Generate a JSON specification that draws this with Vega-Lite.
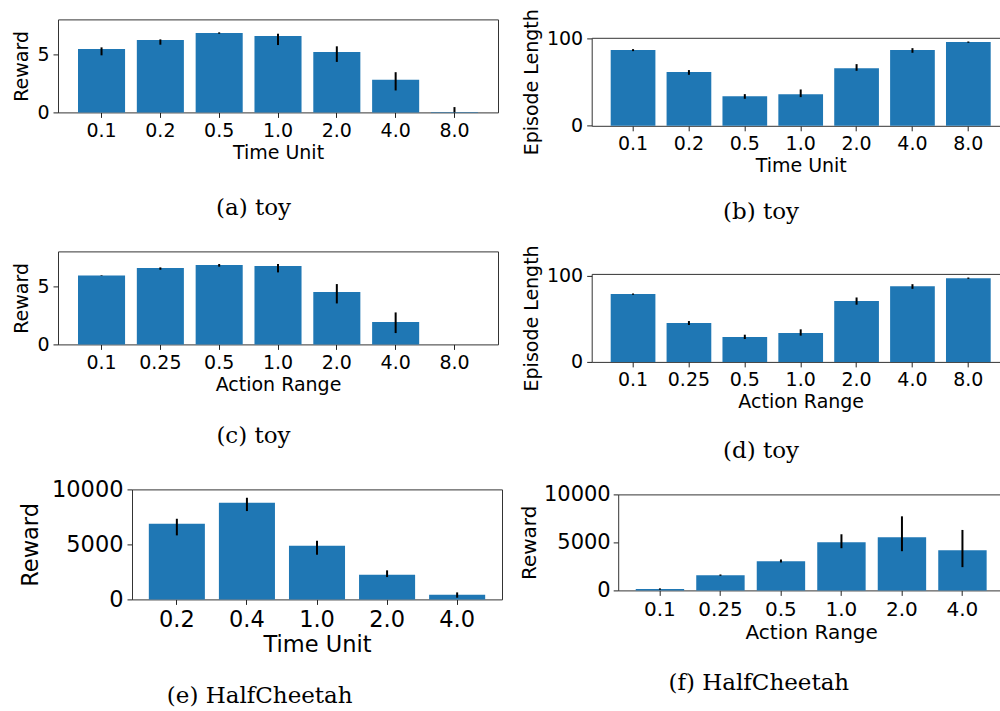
{
  "$schema": "https://vega.github.io/schema/vega-lite/v6.json",
  "background": "white",
  "padding": {"left": 12, "top": 8.4, "right": 0, "bottom": 0},
  "spacing": 16.7,
  "config": {
    "view": {"stroke": "#333333", "strokeWidth": 1},
    "axis": {
      "labelFont": "DejaVu Sans", "titleFont": "DejaVu Sans",
      "labelColor": "black", "titleColor": "black", "titleFontWeight": "normal",
      "grid": false, "domain": false, "domainColor": "#333333", "domainWidth": 1,
      "tickColor": "#222222", "tickWidth": 1, "tickSize": 5,
      "labelPadding": 4, "titlePadding": 5
    },
    "axisX": {"labelAngle": 0, "titlePadding": 3},
    "title": {"font": "DejaVu Serif", "fontWeight": "normal", "fontSize": 23, "orient": "bottom", "anchor": "middle", "frame": "bounds", "color": "black"}
  },
  "hconcat": [
    {
      "spacing": 30,
      "vconcat": [
        {
          "title": {"text": "(a) toy", "offset": 34.5, "dx": -2},
          "width": 440, "height": 93,
          "data": {"values": [
            {"x": "0.1", "v": 5.49, "lo": 4.94, "hi": 5.63},
            {"x": "0.2", "v": 6.26, "lo": 5.86, "hi": 6.32},
            {"x": "0.5", "v": 6.87, "lo": 6.81, "hi": 6.93},
            {"x": "1.0", "v": 6.61, "lo": 5.83, "hi": 6.81},
            {"x": "2.0", "v": 5.23, "lo": 4.37, "hi": 5.72},
            {"x": "4.0", "v": 2.82, "lo": 1.90, "hi": 3.48},
            {"x": "8.0", "v": 0.03, "lo": -0.4, "hi": 0.46}
          ]},
          "encoding": {
            "x": {"field": "x", "type": "nominal", "sort": null, "title": "Time Unit",
                  "scale": {"paddingInner": 0.2, "paddingOuter": 0.34},
                  "axis": {"labelFontSize": 19, "titleFontSize": 19}}
          },
          "layer": [
            {"mark": {"type": "bar", "color": "#1f77b4"},
             "encoding": {"y": {"field": "v", "type": "quantitative", "title": "Reward",
                                "scale": {"domain": [0, 8.05], "clamp": true, "nice": false},
                                "axis": {"values": [0, 5], "labelFontSize": 19, "titleFontSize": 19}}}},
            {"mark": {"type": "rule", "color": "black", "strokeWidth": 2},
             "encoding": {"y": {"field": "lo", "type": "quantitative", "title": "Reward"}, "y2": {"field": "hi"}}}
          ]
        },
        {
          "title": {"text": "(c) toy", "offset": 30.5, "dx": -2},
          "width": 440, "height": 93,
          "data": {"values": [
            {"x": "0.1", "v": 5.91, "lo": 5.89, "hi": 5.94},
            {"x": "0.25", "v": 6.54, "lo": 6.40, "hi": 6.60},
            {"x": "0.5", "v": 6.80, "lo": 6.66, "hi": 6.89},
            {"x": "1.0", "v": 6.71, "lo": 6.17, "hi": 6.89},
            {"x": "2.0", "v": 4.49, "lo": 3.51, "hi": 5.17},
            {"x": "4.0", "v": 1.91, "lo": 0.97, "hi": 2.74},
            {"x": "8.0", "v": 0, "lo": 0, "hi": 0}
          ]},
          "encoding": {
            "x": {"field": "x", "type": "nominal", "sort": null, "title": "Action Range",
                  "scale": {"paddingInner": 0.2, "paddingOuter": 0.34},
                  "axis": {"labelFontSize": 19, "titleFontSize": 19}}
          },
          "layer": [
            {"mark": {"type": "bar", "color": "#1f77b4"},
             "encoding": {"y": {"field": "v", "type": "quantitative", "title": "Reward",
                                "scale": {"domain": [0, 7.97], "clamp": true, "nice": false},
                                "axis": {"values": [0, 5], "labelFontSize": 19, "titleFontSize": 19}}}},
            {"mark": {"type": "rule", "color": "black", "strokeWidth": 2},
             "encoding": {"y": {"field": "lo", "type": "quantitative", "title": "Reward"}, "y2": {"field": "hi"}}}
          ]
        },
        {
          "title": {"text": "(e) HalfCheetah", "offset": 28.5, "dx": -1},
          "width": 444, "height": 110,
          "view": {"stroke": null},
          "data": {"values": [
            {"x": "0.2", "v": 6880, "lo": 5820, "hi": 7330},
            {"x": "0.4", "v": 8790, "lo": 8030, "hi": 9240},
            {"x": "1.0", "v": 4880, "lo": 4060, "hi": 5330},
            {"x": "2.0", "v": 2240, "lo": 2030, "hi": 2640},
            {"x": "4.0", "v": 424, "lo": 152, "hi": 636}
          ]},
          "layer": [
            {"mark": {"type": "bar", "color": "#1f77b4"},
             "encoding": {
               "x": {"field": "x", "type": "nominal", "sort": null, "title": "Time Unit",
                     "scale": {"range": [74, 444], "paddingInner": 0.2, "paddingOuter": 0.24},
                     "axis": {"orient": "bottom", "domain": true, "labelFontSize": 22.5, "titleFontSize": 22.5}},
               "y": {"field": "v", "type": "quantitative", "title": "Reward",
                     "scale": {"domain": [0, 10000], "clamp": true, "nice": false},
                     "axis": {"orient": "left", "offset": -74, "domain": true, "values": [0, 5000, 10000], "format": "d", "labelFontSize": 22.5, "titleFontSize": 22.5, "titlePadding": 9}}}},
            {"mark": {"type": "rule", "color": "black", "strokeWidth": 2},
             "encoding": {
               "x": {"field": "x", "type": "nominal", "sort": null, "title": null,
                     "scale": {"range": [74, 444], "paddingInner": 0.2, "paddingOuter": 0.24},
                     "axis": {"orient": "top", "domain": true, "ticks": false, "labels": false}},
               "y": {"field": "lo", "type": "quantitative", "title": null,
                     "scale": {"domain": [0, 10000], "clamp": true, "nice": false},
                     "axis": {"orient": "right", "domain": true, "ticks": false, "labels": false}},
               "y2": {"field": "hi"}}}
          ]
        }
      ]
    },
    {
      "spacing": 19.5,
      "vconcat": [
        {
          "title": {"text": "(b) toy", "offset": 25, "dx": -5},
          "width": 418, "height": 106.4,
          "view": {"stroke": null},
          "data": {"values": [
            {"x": "0.1", "v": 86.3, "lo": 85.1, "hi": 87.4},
            {"x": "0.2", "v": 61.2, "lo": 58.1, "hi": 63.5},
            {"x": "0.5", "v": 33.8, "lo": 30.8, "hi": 36.1},
            {"x": "1.0", "v": 36.1, "lo": 32.7, "hi": 41.4},
            {"x": "2.0", "v": 65.7, "lo": 62.7, "hi": 70.3},
            {"x": "4.0", "v": 86.3, "lo": 83.2, "hi": 88.5},
            {"x": "8.0", "v": 95.4, "lo": 94.6, "hi": 96.1}
          ]},
          "layer": [
            {"mark": {"type": "bar", "color": "#1f77b4"},
             "encoding": {
               "x": {"field": "x", "type": "nominal", "sort": null, "title": "Time Unit",
                     "scale": {"paddingInner": 0.2, "paddingOuter": 0.34},
                     "axis": {"orient": "bottom", "domain": true, "labelFontSize": 19, "titleFontSize": 19}},
               "y": {"field": "v", "type": "quantitative", "title": "Episode Length",
                     "scale": {"domain": [0, 100.3], "range": [106.4, 18.4], "clamp": true, "nice": false},
                     "axis": {"orient": "left", "domain": true, "values": [0, 100], "labelFontSize": 19, "titleFontSize": 19}}}},
            {"mark": {"type": "rule", "color": "black", "strokeWidth": 2},
             "encoding": {
               "x": {"field": "x", "type": "nominal", "sort": null, "title": null,
                     "scale": {"paddingInner": 0.2, "paddingOuter": 0.34},
                     "axis": {"orient": "top", "offset": -18.4, "domain": true, "ticks": false, "labels": false}},
               "y": {"field": "lo", "type": "quantitative", "title": null,
                     "scale": {"domain": [0, 100.3], "range": [106.4, 18.4], "clamp": true, "nice": false},
                     "axis": {"orient": "right", "domain": true, "ticks": false, "labels": false}},
               "y2": {"field": "hi"}}}
          ]
        },
        {
          "title": {"text": "(d) toy", "offset": 28.5, "dx": -5},
          "width": 418, "height": 88,
          "data": {"values": [
            {"x": "0.1", "v": 78.5, "lo": 77.7, "hi": 79.2},
            {"x": "0.25", "v": 45.0, "lo": 42.7, "hi": 47.3},
            {"x": "0.5", "v": 28.8, "lo": 26.5, "hi": 31.5},
            {"x": "1.0", "v": 33.5, "lo": 30.4, "hi": 37.7},
            {"x": "2.0", "v": 70.4, "lo": 66.2, "hi": 74.6},
            {"x": "4.0", "v": 87.7, "lo": 84.6, "hi": 90.0},
            {"x": "8.0", "v": 96.9, "lo": 96.2, "hi": 97.7}
          ]},
          "encoding": {
            "x": {"field": "x", "type": "nominal", "sort": null, "title": "Action Range",
                  "scale": {"paddingInner": 0.2, "paddingOuter": 0.34},
                  "axis": {"labelFontSize": 19, "titleFontSize": 19}}
          },
          "layer": [
            {"mark": {"type": "bar", "color": "#1f77b4"},
             "encoding": {"y": {"field": "v", "type": "quantitative", "title": "Episode Length",
                                "scale": {"domain": [0, 101.9], "clamp": true, "nice": false},
                                "axis": {"values": [0, 100], "labelFontSize": 19, "titleFontSize": 19}}}},
            {"mark": {"type": "rule", "color": "black", "strokeWidth": 2},
             "encoding": {"y": {"field": "lo", "type": "quantitative", "title": "Episode Length"}, "y2": {"field": "hi"}}}
          ]
        },
        {
          "title": {"text": "(f) HalfCheetah", "offset": 30, "dx": -3},
          "width": 412.5, "height": 96,
          "view": {"stroke": null},
          "data": {"values": [
            {"x": "0.1", "v": 138, "lo": 69, "hi": 208},
            {"x": "0.25", "v": 1590, "lo": 1520, "hi": 1660},
            {"x": "0.5", "v": 3045, "lo": 2906, "hi": 3218},
            {"x": "1.0", "v": 5017, "lo": 4394, "hi": 5847},
            {"x": "2.0", "v": 5536, "lo": 4083, "hi": 7716},
            {"x": "4.0", "v": 4187, "lo": 2422, "hi": 6297}
          ]},
          "layer": [
            {"mark": {"type": "bar", "color": "#1f77b4"},
             "encoding": {
               "x": {"field": "x", "type": "nominal", "sort": null, "title": "Action Range",
                     "scale": {"range": [26.5, 412.5], "paddingInner": 0.2, "paddingOuter": 0.29},
                     "axis": {"orient": "bottom", "domain": true, "labelFontSize": 20, "titleFontSize": 20}},
               "y": {"field": "v", "type": "quantitative", "title": "Reward",
                     "scale": {"domain": [0, 10000], "clamp": true, "nice": false},
                     "axis": {"orient": "left", "offset": -26.5, "domain": true, "values": [0, 5000, 10000], "format": "d", "labelFontSize": 21, "titleFontSize": 20, "labelPadding": 3, "titlePadding": 4}}}},
            {"mark": {"type": "rule", "color": "black", "strokeWidth": 2},
             "encoding": {
               "x": {"field": "x", "type": "nominal", "sort": null, "title": null,
                     "scale": {"range": [26.5, 412.5], "paddingInner": 0.2, "paddingOuter": 0.29},
                     "axis": {"orient": "top", "domain": true, "ticks": false, "labels": false}},
               "y": {"field": "lo", "type": "quantitative", "title": null,
                     "scale": {"domain": [0, 10000], "clamp": true, "nice": false},
                     "axis": {"orient": "right", "domain": true, "ticks": false, "labels": false}},
               "y2": {"field": "hi"}}}
          ]
        }
      ]
    }
  ]
}
